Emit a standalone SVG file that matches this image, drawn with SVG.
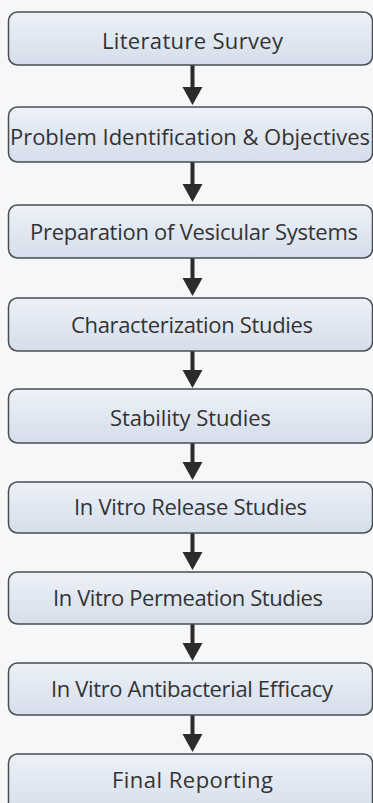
<svg xmlns="http://www.w3.org/2000/svg" width="373" height="803" viewBox="0 0 373 803">
<defs>
<linearGradient id="g" x1="0" y1="0" x2="0" y2="1">
<stop offset="0" stop-color="#edf1f8"/>
<stop offset="1" stop-color="#d5deeb"/>
</linearGradient>
<style>
.box{fill:url(#g);stroke:#4a4d52;stroke-width:1.5}
.t{font-family:"Open Sans","Noto Sans",sans-serif;font-size:22px;fill:#333;text-anchor:middle;dominant-baseline:central}
.c{stroke:#2b2b2b;stroke-width:4;fill:none}
.h{fill:#2b2b2b}
</style>
</defs>
<rect width="373" height="803" fill="#f6f7f9"/>
<g id="connectors">
<line class="c" x1="192.5" y1="65" x2="192.5" y2="88"/>
<path class="h" d="M182.5,87 L202.5,87 L192.5,105 Z"/>
<line class="c" x1="192.5" y1="162" x2="192.5" y2="185"/>
<path class="h" d="M182.5,184 L202.5,184 L192.5,202 Z"/>
<line class="c" x1="192.5" y1="258" x2="192.5" y2="279"/>
<path class="h" d="M182.5,278 L202.5,278 L192.5,296 Z"/>
<line class="c" x1="192.5" y1="351" x2="192.5" y2="371"/>
<path class="h" d="M182.5,370 L202.5,370 L192.5,388 Z"/>
<line class="c" x1="192.5" y1="443" x2="192.5" y2="463"/>
<path class="h" d="M182.5,462 L202.5,462 L192.5,480 Z"/>
<line class="c" x1="192.5" y1="533" x2="192.5" y2="553"/>
<path class="h" d="M182.5,552 L202.5,552 L192.5,570 Z"/>
<line class="c" x1="192.5" y1="624" x2="192.5" y2="644"/>
<path class="h" d="M182.5,643 L202.5,643 L192.5,661 Z"/>
<line class="c" x1="192.5" y1="715" x2="192.5" y2="735"/>
<path class="h" d="M182.5,734 L202.5,734 L192.5,752 Z"/>
</g>
<g id="n1"><rect class="box" x="8.5" y="12" width="364" height="53" rx="9"/><text class="t" x="192.5" y="40" textLength="181">Literature Survey</text></g>
<g id="n2"><rect class="box" x="8.5" y="107" width="364" height="55" rx="9"/><text class="t" x="190" y="136" textLength="360">Problem Identification &amp; Objectives</text></g>
<g id="n3"><rect class="box" x="8.5" y="205" width="364" height="53" rx="9"/><text class="t" x="194" y="231" textLength="328">Preparation of Vesicular Systems</text></g>
<g id="n4"><rect class="box" x="8.5" y="298" width="364" height="53" rx="9"/><text class="t" x="192" y="324" textLength="242">Characterization Studies</text></g>
<g id="n5"><rect class="box" x="8.5" y="389" width="364" height="54" rx="9"/><text class="t" x="190.5" y="417" textLength="161">Stability Studies</text></g>
<g id="n6"><rect class="box" x="8.5" y="482" width="364" height="51" rx="9"/><text class="t" x="190.5" y="506" textLength="233">In Vitro Release Studies</text></g>
<g id="n7"><rect class="box" x="8.5" y="572" width="364" height="52" rx="9"/><text class="t" x="188" y="597" textLength="270">In Vitro Permeation Studies</text></g>
<g id="n8"><rect class="box" x="8.5" y="663" width="364" height="52" rx="9"/><text class="t" x="192" y="688" textLength="282">In Vitro Antibacterial Efficacy</text></g>
<g id="n9"><rect class="box" x="8.5" y="754" width="364" height="60" rx="9"/><text class="t" x="192.5" y="779" textLength="161">Final Reporting</text></g>
</svg>
